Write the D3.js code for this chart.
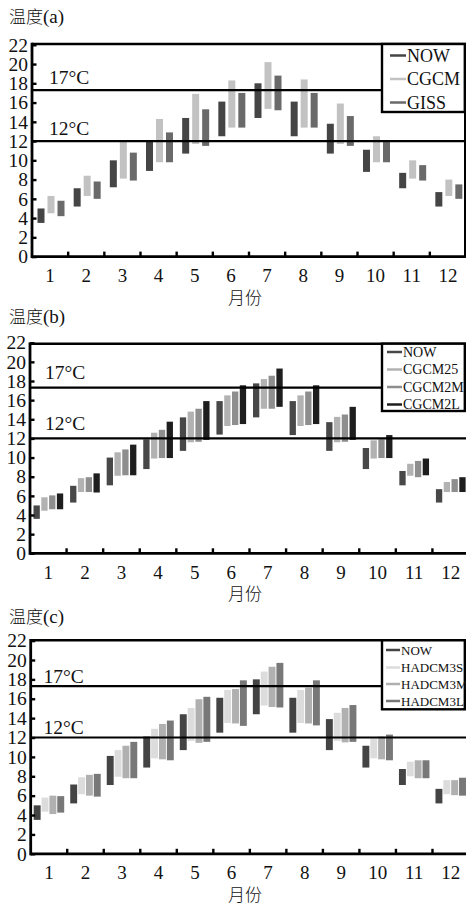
<!DOCTYPE html>
<html>
<head>
<meta charset="utf-8">
<script src="https://cdn.jsdelivr.net/npm/d3@7"></script>
<style>
  body { margin: 0; background: #fff; }
  svg { display: block; }
  text { font-family: "Liberation Serif", "Noto Sans CJK SC", serif; fill: #111; }
</style>
</head>
<body>
<svg id="chart" width="466" height="906"></svg>
<script>
// 月份和刻度
const months = [1, 2, 3, 4, 5, 6, 7, 8, 9, 10, 11, 12];
const yTicks = [0, 2, 4, 6, 8, 10, 12, 14, 16, 18, 20, 22];
const thresholds = [17.3, 12];
const thresholdLabels = ["17°C", "12°C"];

// (a) NOW / CGCM / GISS
const seriesA = ["NOW", "CGCM", "GISS"];
const aNowLo  = [3.5, 5.2, 7.2, 8.9, 10.7, 12.5, 14.4, 12.5, 10.7, 8.8, 7.1, 5.2];
const aNowHi  = [5.0, 7.1, 10.0, 12.1, 14.4, 16.1, 18.0, 16.1, 13.8, 11.1, 8.7, 6.7];
const aCgcmLo = [4.5, 6.3, 8.1, 9.8, 11.7, 13.4, 15.35, 13.4, 11.7, 9.8, 8.1, 6.3];
const aCgcmHi = [6.3, 8.4, 12.0, 14.3, 16.9, 18.3, 20.2, 18.4, 15.9, 12.5, 10.0, 8.0];
const aGissLo = [4.2, 6.0, 7.9, 9.8, 11.5, 13.4, 15.2, 13.4, 11.5, 9.8, 7.9, 6.0];
const aGissHi = [5.8, 7.8, 10.8, 12.9, 15.3, 17.0, 18.8, 17.0, 14.6, 11.9, 9.5, 7.5];

// (b) NOW / CGCM25 / CGCM2M / CGCM2L
const seriesB = ["NOW", "CGCM25", "CGCM2M", "CGCM2L"];
const bNowLo = [3.6, 5.3, 7.1, 8.8, 10.7, 12.4, 14.2, 12.35, 10.7, 8.8, 7.1, 5.3];
const bNowHi = [5.0, 7.05, 10.0, 11.9, 14.2, 15.9, 17.75, 15.9, 13.7, 11.0, 8.6, 6.7];
const b25Lo  = [4.45, 6.4, 8.1, 9.9, 11.6, 13.3, 15.1, 13.3, 11.6, 9.9, 8.1, 6.4];
const b25Hi  = [5.85, 7.85, 10.55, 12.6, 14.8, 16.5, 18.2, 16.5, 14.25, 11.8, 9.35, 7.45];
const b2MLo  = [4.6, 6.4, 8.15, 9.95, 11.65, 13.4, 15.1, 13.4, 11.65, 9.95, 7.95, 6.4];
const b2MHi  = [6.05, 7.95, 10.85, 12.9, 15.1, 16.9, 18.55, 16.9, 14.5, 11.9, 9.65, 7.75];
const b2LLo  = [4.6, 6.35, 8.15, 9.95, 11.85, 13.5, 15.3, 13.5, 11.85, 9.95, 8.15, 6.4];
const b2LHi  = [6.25, 8.35, 11.35, 13.75, 15.9, 17.55, 19.3, 17.55, 15.3, 12.35, 9.9, 7.95];

// (c) NOW / HADCM3S / HADCM3M / HADCM3L
const seriesC = ["NOW", "HADCM3S", "HADCM3M", "HADCM3L"];
const cNowLo = [3.5, 5.2, 7.1, 8.9, 10.7, 12.5, 14.4, 12.5, 10.7, 8.9, 7.1, 5.2];
const cNowHi = [5.0, 7.15, 10.1, 12.1, 14.4, 16.1, 18.0, 16.1, 13.9, 11.15, 8.75, 6.7];
const cSLo   = [4.35, 6.15, 7.95, 9.85, 11.65, 13.5, 15.3, 13.5, 11.65, 9.85, 8.0, 6.15];
const cSHi   = [5.8, 7.9, 10.7, 12.9, 15.05, 16.9, 18.8, 16.9, 14.55, 11.9, 9.5, 7.6];
const cMLo   = [4.1, 6.0, 7.8, 9.75, 11.45, 13.45, 15.15, 13.45, 11.5, 9.75, 7.8, 6.05];
const cMHi   = [6.0, 8.15, 11.15, 13.4, 15.95, 17.0, 19.3, 17.15, 15.05, 12.1, 9.65, 7.6];
const cLLo   = [4.25, 5.9, 7.8, 9.65, 11.55, 13.2, 15.1, 13.25, 11.55, 9.65, 7.8, 6.0];
const cLHi   = [5.95, 8.25, 11.55, 13.75, 16.2, 17.9, 19.7, 17.9, 15.35, 12.3, 9.65, 7.85];

const svg = d3.select("#chart");
svg.append("rect").attr("width", 466).attr("height", 906).attr("fill", "#fff");

const panels = [
    {
        title: "温度", tag: "(a)", titleY: 23,
        left: 32, right: 466, top: 44, y0: 256.6, y22: 44.8,
        inner: [5.5, 32.5], pad: 0.3,
        series: seriesA,
        lo: [aNowLo, aCgcmLo, aGissLo], hi: [aNowHi, aCgcmHi, aGissHi],
        colors: ["#454545", "#c2c2c2", "#6a6a6a"],
        labelOff: 6.5, labelX: 49,
        legend: { x: 382, y: 44, h: 68, sw: 390, tx: 407, ys: [55.5, 79, 102.5], fs: 18 }
    },
    {
        title: "温度", tag: "(b)", titleY: 323,
        left: 30, right: 469, top: 343.7, y0: 553.3, y22: 342.7,
        inner: [3.5, 33.2], pad: 0.19,
        series: seriesB,
        lo: [bNowLo, b25Lo, b2MLo, b2LLo], hi: [bNowHi, b25Hi, b2MHi, b2LHi],
        colors: ["#484848", "#b2b2b2", "#8e8e8e", "#1e1e1e"],
        labelOff: 8.5, labelX: 45,
        legend: { x: 382, y: 343.7, h: 67.3, sw: 387, tx: 403, ys: [352, 369.5, 387, 404.5], fs: 14 }
    },
    {
        title: "温度", tag: "(c)", titleY: 623,
        left: 30.7, right: 469, top: 640.3, y0: 853.8, y22: 640.6,
        inner: [3, 33.5], pad: 0.12,
        series: seriesC,
        lo: [cNowLo, cSLo, cMLo, cLLo], hi: [cNowHi, cSHi, cMHi, cLHi],
        colors: ["#444444", "#dcdcdc", "#b0b0b0", "#787878"],
        labelOff: 3.5, labelX: 43.5,
        legend: { x: 382, y: 640.3, h: 69, sw: 386, tx: 401, ys: [650, 667.5, 684, 701], fs: 13 }
    }
];

panels.forEach(p => {
    const g = svg.append("g");
    const x = d3.scaleBand().domain(months).range([p.left, p.right]);
    const inner = d3.scaleBand().domain(p.series).range(p.inner).paddingInner(p.pad);
    const y = d3.scaleLinear().domain([0, 22]).range([p.y0, p.y22]);
    const axisY = y(0);

    // 标题
    const t = g.append("text")
        .attr("x", 9).attr("y", p.titleY)
        .attr("font-size", 17);
    t.append("tspan").attr("font-family", "Noto Sans CJK SC").attr("font-weight", 300).text(p.title);
    t.append("tspan").attr("font-size", 19).text(p.tag);

    // 柱子
    p.series.forEach((s, i) => {
        g.append("g")
            .selectAll("rect")
            .data(months)
            .enter()
            .append("rect")
            .attr("x", m => x(m) + inner(s))
            .attr("width", inner.bandwidth())
            .attr("y", (m, j) => y(p.hi[i][j]))
            .attr("height", (m, j) => y(p.lo[i][j]) - y(p.hi[i][j]))
            .attr("fill", p.colors[i]);
    });

    // 阈值线
    g.append("g")
        .selectAll("line")
        .data(thresholds)
        .enter()
        .append("line")
        .attr("x1", p.left).attr("x2", p.right)
        .attr("y1", d => y(d)).attr("y2", d => y(d))
        .attr("stroke", "#000").attr("stroke-width", 2.2);

    g.append("g")
        .selectAll("text")
        .data(thresholds)
        .enter()
        .append("text")
        .attr("x", p.labelX)
        .attr("y", d => y(d) - p.labelOff)
        .attr("font-size", 19.5)
        .text((d, i) => thresholdLabels[i]);

    // 边框
    g.append("line")
        .attr("x1", p.left).attr("x2", p.right)
        .attr("y1", p.top).attr("y2", p.top)
        .attr("stroke", "#000").attr("stroke-width", 2.6);
    g.append("line")
        .attr("x1", p.right - 1).attr("x2", p.right - 1)
        .attr("y1", p.top).attr("y2", axisY)
        .attr("stroke", "#000").attr("stroke-width", 2);

    // Y 轴
    const yAxis = g.append("g")
        .attr("transform", `translate(${p.left},0)`)
        .call(d3.axisLeft(y).tickValues(yTicks).tickSizeInner(-4.5).tickSizeOuter(0).tickPadding(4));
    yAxis.select(".domain").remove();
    yAxis.selectAll(".tick line").attr("stroke", "#000").attr("stroke-width", 2.4);
    yAxis.selectAll(".tick text")
        .attr("font-size", 19.5)
        .attr("font-family", "Liberation Serif")
        .attr("fill", "#111");
    g.append("line")
        .attr("x1", p.left).attr("x2", p.left)
        .attr("y1", p.top - 1.3).attr("y2", axisY + 1.5)
        .attr("stroke", "#000").attr("stroke-width", 2.8);

    // X 轴
    const xAxis = g.append("g")
        .attr("transform", `translate(0,${axisY})`)
        .call(d3.axisBottom(x).tickSize(0).tickPadding(12));
    xAxis.select(".domain").remove();
    xAxis.selectAll(".tick text")
        .attr("font-size", 19)
        .attr("font-family", "Liberation Serif")
        .attr("fill", "#111");
    g.append("g")
        .selectAll("line")
        .data(months.slice(1))
        .enter()
        .append("line")
        .attr("x1", m => x(m)).attr("x2", m => x(m))
        .attr("y1", axisY).attr("y2", axisY - 5)
        .attr("stroke", "#000").attr("stroke-width", 2.4);
    g.append("line")
        .attr("x1", p.left).attr("x2", p.right)
        .attr("y1", axisY).attr("y2", axisY)
        .attr("stroke", "#000").attr("stroke-width", 2.8);

    g.append("text")
        .attr("x", 245).attr("y", axisY + 47)
        .attr("text-anchor", "middle")
        .attr("font-size", 17)
        .attr("font-weight", 300)
        .text("月份");

    // 图例
    const L = p.legend;
    g.append("rect")
        .attr("x", L.x).attr("y", L.y)
        .attr("width", 466 - L.x - 1.2).attr("height", L.h)
        .attr("fill", "#fff").attr("stroke", "#000").attr("stroke-width", 2.4);
    const item = g.append("g")
        .selectAll("g")
        .data(p.series)
        .enter()
        .append("g")
        .attr("transform", (d, i) => `translate(0,${L.ys[i]})`);
    item.append("line")
        .attr("x1", L.sw).attr("x2", L.tx - 1)
        .attr("stroke", (d, i) => p.colors[i])
        .attr("stroke-width", 2.5);
    item.append("text")
        .attr("x", L.tx).attr("dy", "0.35em")
        .attr("font-size", L.fs)
        .text(d => d);
});
</script>
</body>
</html>
